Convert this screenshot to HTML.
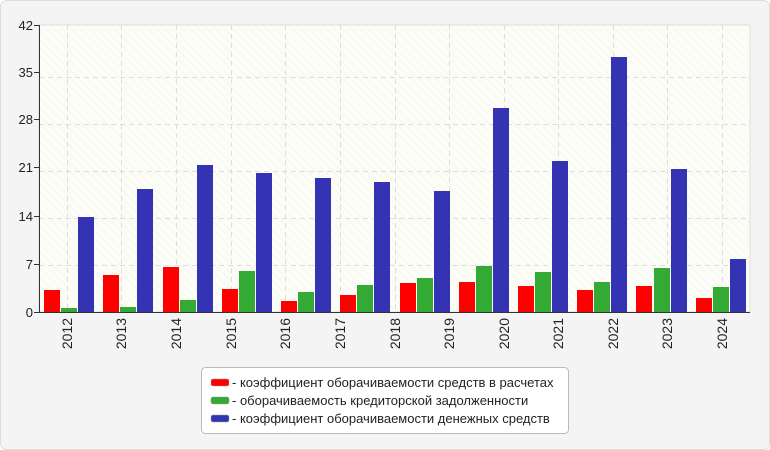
<!DOCTYPE html>
<html><head><meta charset="utf-8"><style>
body{margin:0;background:#fff}
svg{display:block}
text{font-family:"Liberation Sans",sans-serif;fill:#222}
</style></head><body>
<svg width="770" height="450" xmlns="http://www.w3.org/2000/svg">
<defs>
<pattern id="h" width="6" height="6" patternUnits="userSpaceOnUse" patternTransform="rotate(-45)">
<rect width="6" height="6" fill="#fdfdf7"/><line x1="0" y1="0" x2="0" y2="6" stroke="#f0f0ea" stroke-width="1"/>
</pattern>
</defs>
<rect x="0.5" y="0.5" width="769" height="449" rx="6" fill="#f4f4f4" stroke="#ddd"/>
<rect x="39" y="25" width="711" height="287" fill="url(#h)" stroke="#ddd"/>
<g stroke="#ddd" stroke-dasharray="5,4" stroke-width="1">
<line x1="39" x2="750" y1="77.5" y2="77.5"/><line x1="39" x2="750" y1="124.5" y2="124.5"/>
<line x1="39" x2="750" y1="171.5" y2="171.5"/><line x1="39" x2="750" y1="218.5" y2="218.5"/>
<line x1="39" x2="750" y1="265.5" y2="265.5"/>
<line x1="67.5" x2="67.5" y1="25" y2="312"/><line x1="121.5" x2="121.5" y1="25" y2="312"/>
<line x1="176.5" x2="176.5" y1="25" y2="312"/><line x1="231.5" x2="231.5" y1="25" y2="312"/>
<line x1="285.5" x2="285.5" y1="25" y2="312"/><line x1="340.5" x2="340.5" y1="25" y2="312"/>
<line x1="395.5" x2="395.5" y1="25" y2="312"/><line x1="449.5" x2="449.5" y1="25" y2="312"/>
<line x1="504.5" x2="504.5" y1="25" y2="312"/><line x1="558.5" x2="558.5" y1="25" y2="312"/>
<line x1="613.5" x2="613.5" y1="25" y2="312"/><line x1="667.5" x2="667.5" y1="25" y2="312"/>
<line x1="722.5" x2="722.5" y1="25" y2="312"/>
</g>
<g id="bars">
<rect x="44" y="290" width="16" height="22" fill="#ff0000"/><rect x="61" y="308" width="16" height="4" fill="#33aa33"/><rect x="78" y="217" width="16" height="95" fill="#3333b3"/>
<rect x="103" y="275" width="16" height="37" fill="#ff0000"/><rect x="120" y="307" width="16" height="5" fill="#33aa33"/><rect x="137" y="189" width="16" height="123" fill="#3333b3"/>
<rect x="163" y="267" width="16" height="45" fill="#ff0000"/><rect x="180" y="300" width="16" height="12" fill="#33aa33"/><rect x="197" y="165" width="16" height="147" fill="#3333b3"/>
<rect x="222" y="289" width="16" height="23" fill="#ff0000"/><rect x="239" y="271" width="16" height="41" fill="#33aa33"/><rect x="256" y="173" width="16" height="139" fill="#3333b3"/>
<rect x="281" y="301" width="16" height="11" fill="#ff0000"/><rect x="298" y="292" width="16" height="20" fill="#33aa33"/><rect x="315" y="178" width="16" height="134" fill="#3333b3"/>
<rect x="340" y="295" width="16" height="17" fill="#ff0000"/><rect x="357" y="285" width="16" height="27" fill="#33aa33"/><rect x="374" y="182" width="16" height="130" fill="#3333b3"/>
<rect x="400" y="283" width="16" height="29" fill="#ff0000"/><rect x="417" y="278" width="16" height="34" fill="#33aa33"/><rect x="434" y="191" width="16" height="121" fill="#3333b3"/>
<rect x="459" y="282" width="16" height="30" fill="#ff0000"/><rect x="476" y="266" width="16" height="46" fill="#33aa33"/><rect x="493" y="108" width="16" height="204" fill="#3333b3"/>
<rect x="518" y="286" width="16" height="26" fill="#ff0000"/><rect x="535" y="272" width="16" height="40" fill="#33aa33"/><rect x="552" y="161" width="16" height="151" fill="#3333b3"/>
<rect x="577" y="290" width="16" height="22" fill="#ff0000"/><rect x="594" y="282" width="16" height="30" fill="#33aa33"/><rect x="611" y="57" width="16" height="255" fill="#3333b3"/>
<rect x="636" y="286" width="16" height="26" fill="#ff0000"/><rect x="654" y="268" width="16" height="44" fill="#33aa33"/><rect x="671" y="169" width="16" height="143" fill="#3333b3"/>
<rect x="696" y="298" width="16" height="14" fill="#ff0000"/><rect x="713" y="287" width="16" height="25" fill="#33aa33"/><rect x="730" y="259" width="16" height="53" fill="#3333b3"/>
</g>
<g stroke="#333" stroke-width="1">
<line x1="39.5" y1="25" x2="39.5" y2="312"/><line x1="39" y1="312.5" x2="750" y2="312.5"/>
<line x1="34" x2="39" y1="25.5" y2="25.5"/><line x1="34" x2="39" y1="72.5" y2="72.5"/><line x1="34" x2="39" y1="119.5" y2="119.5"/>
<line x1="34" x2="39" y1="167.5" y2="167.5"/><line x1="34" x2="39" y1="216.5" y2="216.5"/><line x1="34" x2="39" y1="264.5" y2="264.5"/><line x1="34" x2="39" y1="312.5" y2="312.5"/>
</g>
<g font-size="13" text-anchor="end">
<text x="33" y="30">42</text><text x="33" y="77">35</text><text x="33" y="124">28</text>
<text x="33" y="172">21</text><text x="33" y="221">14</text><text x="33" y="269">7</text><text x="33" y="317">0</text>
</g>
<g font-size="14" text-anchor="end">
<text transform="translate(72,318) rotate(-90)">2012</text>
<text transform="translate(126,318) rotate(-90)">2013</text>
<text transform="translate(181,318) rotate(-90)">2014</text>
<text transform="translate(236,318) rotate(-90)">2015</text>
<text transform="translate(290,318) rotate(-90)">2016</text>
<text transform="translate(345,318) rotate(-90)">2017</text>
<text transform="translate(400,318) rotate(-90)">2018</text>
<text transform="translate(454,318) rotate(-90)">2019</text>
<text transform="translate(509,318) rotate(-90)">2020</text>
<text transform="translate(563,318) rotate(-90)">2021</text>
<text transform="translate(618,318) rotate(-90)">2022</text>
<text transform="translate(672,318) rotate(-90)">2023</text>
<text transform="translate(727,318) rotate(-90)">2024</text>
</g>
<rect x="201.5" y="367.5" width="367" height="66" rx="4" fill="#fff" stroke="#bbb"/>
<rect x="211" y="379" width="18" height="7" rx="2" fill="#ff0000" stroke="#999" stroke-width="0.5"/>
<rect x="211" y="397" width="18" height="7" rx="2" fill="#33aa33" stroke="#999" stroke-width="0.5"/>
<rect x="211" y="415" width="18" height="7" rx="2" fill="#3333b3" stroke="#999" stroke-width="0.5"/>
<g font-size="13">
<text x="232" y="387">- коэффициент оборачиваемости средств в расчетах</text>
<text x="232" y="405">- оборачиваемость кредиторской задолженности</text>
<text x="232" y="423">- коэффициент оборачиваемости денежных средств</text>
</g>
</svg>
</body></html>
